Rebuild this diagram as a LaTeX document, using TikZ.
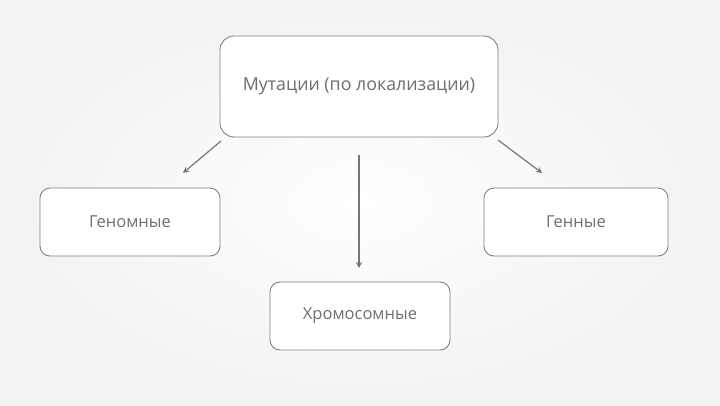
\documentclass[tikz,border=0pt]{standalone}
\usepackage{fontspec}
\setmainfont{Open Sans}
\usetikzlibrary{arrows.meta}
\definecolor{txt}{HTML}{6E6E6E}
\definecolor{bord}{HTML}{808080}
\definecolor{arr}{HTML}{777777}
\begin{document}
\begin{tikzpicture}[x=1pt,y=-1pt,
  box/.style={draw=bord, line width=0.9pt, fill=white, rounded corners=10pt, text=txt, font=\fontsize{16.5}{20}\selectfont, inner sep=0pt},
  conn/.style={draw=arr, line width=1.2pt, -{Stealth[length=6pt,width=6pt]}}]
\shade[inner color=white, outer color=black!5] (0,0) rectangle (720,405);
\useasboundingbox (0,0) rectangle (720,405);
\node[box, minimum width=278pt, minimum height=101pt, rounded corners=14pt, font=\fontsize{17.8}{21}\selectfont] (top) at (359,86.5) {Мутации (по локализации)};
\node[box, minimum width=180pt, minimum height=68pt] (gen) at (130,222) {Геномные};
\node[box, minimum width=184pt, minimum height=68pt] (gne) at (576,222) {Генные};
\node[box, minimum width=180pt, minimum height=68pt] (chr) at (360,316) {Хромосомные};
\coordinate (a1) at (221,141);
\coordinate (a1e) at (183,173);
\coordinate (a2) at (498,140);
\coordinate (a2e) at (542,173);
\coordinate (a3) at (359,155);
\coordinate (a3e) at (359,268);
\draw[conn] (a1) -- (a1e);
\draw[conn] (a2) -- (a2e);
\draw[conn] (a3) -- (a3e);
\end{tikzpicture}
\end{document}
